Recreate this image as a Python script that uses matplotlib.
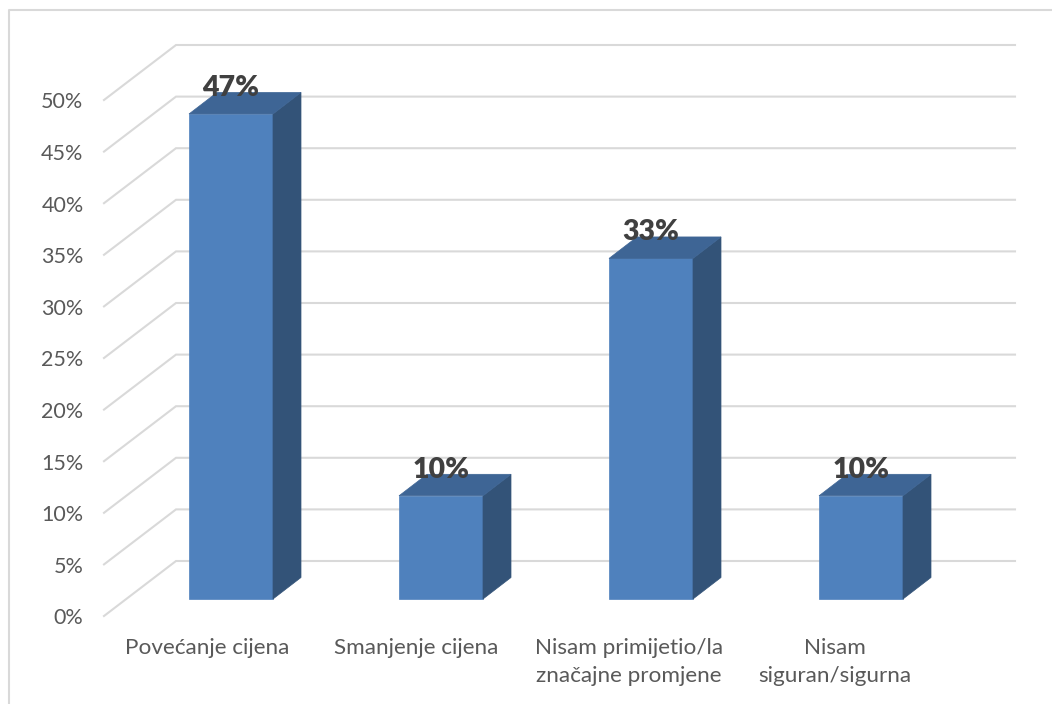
import matplotlib.pyplot as plt
from matplotlib.patches import Polygon

categories = ["Povećanje cijena", "Smanjenje cijena", "Nisam primijetio/la\nznačajne promjene", "Nisam\nsiguran/sigurna"]
values = [47, 10, 33, 10]
y_ticks = [0, 5, 10, 15, 20, 25, 30, 35, 40, 45, 50]

plt.rcParams['font.family'] = ['Lato', 'DejaVu Sans']

W, H = 1052, 704
PX_X = 210.0    # pixels per category
PX_Y = 10.32    # pixels per percent
X0, Y0 = 231.0, 599.0    # first category centre, 0% on the bar plane


def dx(px):
    return px / PX_X


def dy(px):
    return px / PX_Y


fig = plt.figure(figsize=(W / 100, H / 100), dpi=100)
ax = fig.add_axes([0, 0, 1, 1])
ax.set_xlim(-X0 / PX_X, (W - X0) / PX_X)
ax.set_ylim(-(H - Y0) / PX_Y, Y0 / PX_Y)
ax.axis('off')

# chart border
ax.plot([dx(8.5) - X0 / PX_X, dx(8.5) - X0 / PX_X, dx(W + 5) - X0 / PX_X],
        [-(H - Y0) / PX_Y, dy(Y0 - 10), dy(Y0 - 10)], color='#d9d9d9', lw=1.5)

# gridlines: left wall diagonal then back wall
left_x = (104 - X0) / PX_X
back_x = (176 - X0) / PX_X
right_x = (1015 - X0) / PX_X
front_off = dy(-17)
back_off = dy(38)
for v in y_ticks:
    ax.plot([left_x, back_x, right_x], [v + front_off, v + back_off, v + back_off],
            color='#d9d9d9', lw=1.5, zorder=1, solid_joinstyle='miter')
    ax.text((83.5 - X0) / PX_X, v + front_off - dy(2.5), f"{v}%", ha='right', va='center',
            fontsize=15.5, color='#595959')

# bars
half = dx(42)
ddx = dx(28)
ddy = dy(21.5)
for i, v in enumerate(values):
    l, r = i - half, i + half
    ax.add_patch(Polygon([(l, 0), (r, 0), (r, v), (l, v)], fc='#4f81bd', ec='#4f81bd', lw=0.5, zorder=3))
    ax.add_patch(Polygon([(r, 0), (r + ddx, ddy), (r + ddx, v + ddy), (r, v)], fc='#335378', ec='#335378', lw=0.5, zorder=3))
    ax.add_patch(Polygon([(l, v), (r, v), (r + ddx, v + ddy), (l + ddx, v + ddy)], fc='#3e6595', ec='#3e6595', lw=0.5, zorder=3))
    ax.text(i, v + dy(26), f"{v}%", ha='center', va='center', fontsize=20.5,
            fontweight='heavy', color='#404040', zorder=4)

# category labels, each slightly off its bar
label_shift = [-24, -25, -22, -26]
for i, c in enumerate(categories):
    ax.text(i + dx(label_shift[i]), dy(-38.5), c, ha='center', va='top',
            fontsize=16.2, color='#595959', linespacing=1.52, multialignment='center')

fig.savefig("out.png", dpi=100)
plt.close()
